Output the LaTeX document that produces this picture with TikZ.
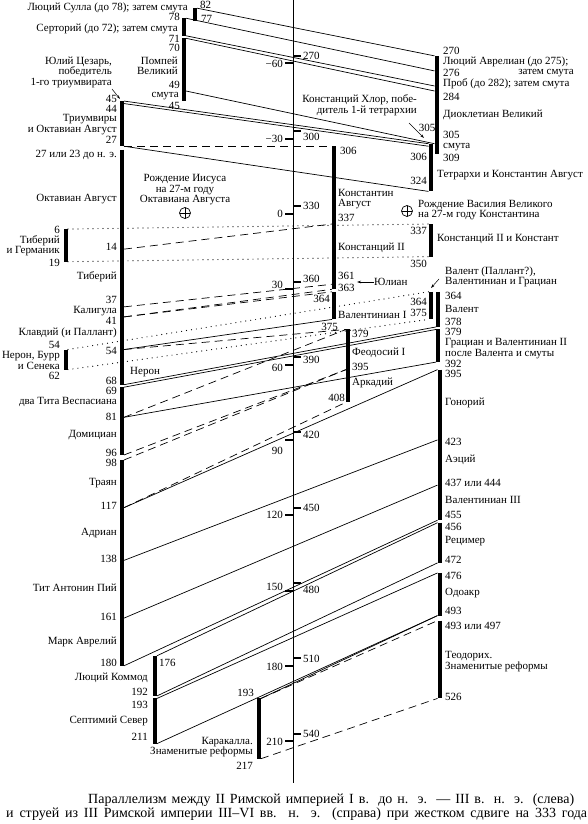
\documentclass[tikz,border=0pt]{standalone}
\usepackage{fontspec}
\setmainfont{Liberation Serif}
\usetikzlibrary{arrows.meta}
\begin{document}
\begin{tikzpicture}[x=1pt,y=-1pt,
  bar/.style={line width=4pt},
  conn/.style={line width=0.7pt},
  dsh/.style={conn,dash pattern=on 8pt off 5pt},
  dtt/.style={line width=1.2pt,line cap=round,dash pattern=on 0pt off 5pt},
  lab/.style={inner sep=0pt,font=\fontsize{11}{10.5}\selectfont},
  labR/.style={lab,anchor=east,align=right},
  labL/.style={lab,anchor=west,align=left},
  labC/.style={lab,anchor=center,align=center},
  captext/.style={inner sep=0pt,anchor=west,font=\fontsize{14}{14}\selectfont},
  tickmark/.style={line width=2pt},
  ptr/.style={line width=0.5pt,-{Stealth[length=4pt,width=2.5pt]}},
  oplus/.style={draw,circle,line width=0.7pt,minimum size=11pt,inner sep=0pt,
    path picture={\draw[line width=0.7pt] (path picture bounding box.north) -- (path picture bounding box.south)
      (path picture bounding box.west) -- (path picture bounding box.east);}},
  ]
\fill[white] (0,0) rectangle (588,824);
\useasboundingbox (0,0) rectangle (588,824);

% ---------- connector end points ----------
\coordinate (Lm82) at (197,8.18);
\coordinate (Lm78) at (186,18.22);
\coordinate (Lm71) at (186,35.79);
\coordinate (Lm70) at (186,38.3);
\coordinate (Lm49) at (186,91.01);
\coordinate (Lm45) at (124,101.05);
\coordinate (Lm44) at (124,103.56);
\coordinate (Lm27) at (124,146.23);
\coordinate (L6) at (68,229.06);
\coordinate (L14) at (124,249.14);
\coordinate (L19) at (68,261.69);
\coordinate (L37) at (124,306.87);
\coordinate (L41) at (124,316.91);
\coordinate (L54) at (124,349.54);
\coordinate (L54n) at (68,349.54);
\coordinate (L62n) at (68,369.62);
\coordinate (L68) at (124,384.68);
\coordinate (L69) at (124,387.19);
\coordinate (L81) at (124,417.31);
\coordinate (L96) at (124,454.96);
\coordinate (L98) at (124,459.98);
\coordinate (L117) at (124,507.67);
\coordinate (L138) at (124,560.38);
\coordinate (L161) at (124,618.11);
\coordinate (L180) at (124,665.8);
\coordinate (L176) at (157,655.76);
\coordinate (L192) at (157,695.92);
\coordinate (L193) at (157,698.43);
\coordinate (L211) at (157,743.61);
\coordinate (L193c) at (261,698.43);
\coordinate (L217) at (261,758.67);

\coordinate (R270) at (434.5,55.87);
\coordinate (R276) at (434.5,70.93);
\coordinate (R282) at (434.5,85.99);
\coordinate (R284) at (434.5,91.01);
\coordinate (R305) at (434.5,143.72);
\coordinate (R305t) at (428.5,143.72);
\coordinate (R306t) at (428.5,146.23);
\coordinate (R324t) at (428.5,191.41);
\coordinate (R306c) at (332,146.23);
\coordinate (R337c) at (332,224.04);
\coordinate (R337s) at (428.5,224.04);
\coordinate (R350s) at (428.5,256.67);
\coordinate (R361c) at (332,284.28);
\coordinate (R363c) at (332,289.3);
\coordinate (R364v) at (332,291.81);
\coordinate (R375v) at (332,319.42);
\coordinate (R364a) at (428.5,291.81);
\coordinate (R375a) at (428.5,319.42);
\coordinate (R378) at (436,326.95);
\coordinate (R379) at (436,329.46);
\coordinate (R392) at (436,362.09);
\coordinate (R379t) at (346,329.46);
\coordinate (R395t) at (346,369.62);
\coordinate (R408t) at (346,402.25);
\coordinate (R395) at (437.5,369.62);
\coordinate (R423) at (437.5,439.9);
\coordinate (R441) at (437.5,485.08);
\coordinate (R455) at (437.5,520.22);
\coordinate (R456) at (437.5,522.73);
\coordinate (R472) at (437.5,562.89);
\coordinate (R476) at (437.5,572.93);
\coordinate (R493) at (437.5,615.6);
\coordinate (R495) at (437.5,620.62);
\coordinate (R526) at (437.5,698.43);

% ---------- connectors ----------
\draw[conn] (Lm82) -- (R270);
\draw[conn] (Lm78) -- (R276);
\draw[conn] (Lm71) -- (R282);
\draw[conn] (Lm70) -- (R284);
\draw[conn] (Lm49) -- (R305);
\draw[conn] (Lm45) -- (R305t);
\draw[conn] (Lm44) -- (R306t);
\draw[conn] (Lm27) -- (R324t);
\draw[dsh] (Lm27) -- (R306c);
\draw[dsh] (L14) -- (R337c);
\draw[dtt] (L6) -- (R337s);
\draw[dtt] (L19) -- (R350s);
\draw[dsh] (L37) -- (R361c);
\draw[dsh] (L41) -- (R363c);
\draw[dsh] (L41) -- (R364v);
\draw[dtt] (L54n) -- (R364a);
\draw[dtt] (L62n) -- (R375a);
\draw[conn] (L54) -- (R375v);
\draw[dsh] (L54) -- (R379t);
\draw[conn] (L68) -- (R378);
\draw[conn] (L69) -- (R379);
\draw[dsh] (L81) -- (R379t);
\draw[conn] (L81) -- (R392);
\draw[dsh] (L96) -- (R395t);
\draw[dsh] (L98) -- (R395t);
\draw[dsh] (L117) -- (R408t);
\draw[conn] (L117) -- (R395);
\draw[conn] (L138) -- (R423);
\draw[conn] (L161) -- (R441);
\draw[conn] (L180) -- (R455);
\draw[conn] (L176) -- (R456);
\draw[conn] (L192) -- (R472);
\draw[conn] (L193) -- (R476);
\draw[conn] (L211) -- (R493);
\draw[conn] (L193c) -- (R493);
\draw[dsh] (L193c) -- (R495);
\draw[dsh] (L217) -- (R526);

% ---------- axis and ticks ----------
\draw[line width=0.8pt] (293,0) -- (293,783);
\foreach \y in {63.4,138.7,214,289.3,364.6,439.9,515.2,590.5,665.8,741.1}
  \draw[tickmark] (285,\y) -- (292.6,\y);
\foreach \y in {55.87,131.17,206.47,281.77,357.07,432.37,507.67,582.97,658.27,733.57}
  \draw[tickmark] (293.4,\y) -- (301,\y);
\node[labR] (km60) at (283,64) {−60};
\node[labR] (km30) at (283,139) {−30};
\node[labR] (k0) at (283,214) {0};
\node[labR] (k30) at (283,285) {30};
\node[labR] (k60) at (283,368) {60};
\node[labR] (k90) at (283,451) {90};
\node[labR] (k120) at (283,515) {120};
\node[labR] (k150) at (283,587) {150};
\node[labR] (k180) at (283,667) {180};
\node[labR] (k210) at (283,742) {210};
\node[labL] (k270) at (303,56) {270};
\node[labL] (k300) at (303,137) {300};
\node[labL] (k330) at (303,206) {330};
\node[labL] (k360) at (303,279) {360};
\node[labL] (k390) at (303,360) {390};
\node[labL] (k420) at (303,435) {420};
\node[labL] (k450) at (303,508) {450};
\node[labL] (k480) at (303,590) {480};
\node[labL] (k510) at (303,659) {510};
\node[labL] (k540) at (303,734) {540};

% ---------- bars ----------
\draw[bar] (195,8.18) -- (195,20.73);
\draw[bar] (184,18.22) -- (184,35.79);
\draw[bar] (184,38.3) -- (184,101.05);
\draw[bar] (122,101.05) -- (122,146.23);
\draw[bar] (122,149.5) -- (122,384.68);
\draw[bar] (122,387.19) -- (122,454.96);
\draw[bar] (122,459.98) -- (122,665.8);
\draw[bar] (66,229.06) -- (66,261.69);
\draw[bar] (66,349.54) -- (66,369.62);
\draw[bar] (155,655.76) -- (155,695.92);
\draw[bar] (155,698.43) -- (155,743.61);
\draw[bar] (259,698.43) -- (259,758.67);

\draw[bar] (436.5,55.87) -- (436.5,153.76);
\draw[bar] (430.5,143.72) -- (430.5,191.41);
\draw[bar] (334,146.23) -- (334,289.3);
\draw[bar] (334,291.81) -- (334,319.42);
\draw[bar] (430.5,224.04) -- (430.5,256.67);
\draw[bar] (430.5,291.81) -- (430.5,319.42);
\draw[bar] (438,291.81) -- (438,326.95);
\draw[bar] (438,329.46) -- (438,362.09);
\draw[bar] (348,329.46) -- (348,402.25);
\draw[bar] (439.5,369.62) -- (439.5,520.22);
\draw[bar] (439.5,522.73) -- (439.5,562.89);
\draw[bar] (439.5,572.93) -- (439.5,615.6);
\draw[bar] (439.5,620.62) -- (439.5,698.43);

% ---------- left labels ----------
\node[labR] (sulla) at (188,8) {Люций Сулла (до 78); затем смута};
\node[labL] (t82) at (200,5) {82};
\node[labL] (t77) at (201,19) {77};
\node[labR] (t78) at (180,17) {78};
\node[labR] (sert) at (178,28.5) {Серторий (до 72); затем смута};
\node[labR] (t71) at (180,38.5) {71};
\node[labR] (t70) at (180,48) {70};
\node[labR] (pomp) at (178,66) {Помпей\\Великий};
\node[labR] (t49) at (180,84.5) {49};
\node[labR] (smuta1) at (179,96.5) {смута};
\node[labR] (t45b) at (180,106) {45};
\node[labR] (caesar) at (112,72) {Юлий Цезарь,\\победитель\\1-го триумвирата};
\node[labR] (t45a) at (117,98.5) {45};
\node[labR] (t44) at (117,108.5) {44};
\node[labR] (triumv) at (117,124.5) {Триумвиры\\и Октавиан Август};
\node[labR] (t27) at (117,139.5) {27};
\node[labR] (t27bc) at (117,155) {27 или 23 до н. э.};
\node[labR] (octav) at (117,199) {Октавиан Август};
\node[labC] (birth1) at (185,190) {Рождение Иисуса\\на 27-м году\\Октавиана Августа};
\node[oplus] (op1) at (185,213) {};
\node[labR] (t6) at (60,230) {6};
\node[labR] (tibg) at (60,245.5) {Тиберий\\и Германик};
\node[labR] (t19) at (60,263) {19};
\node[labR] (t14) at (117,247) {14};
\node[labR] (tib) at (117,277) {Тиберий};
\node[labR] (t37) at (117,300) {37};
\node[labR] (calig) at (117,311) {Калигула};
\node[labR] (t41) at (117,321) {41};
\node[labR] (claud) at (117,333) {Клавдий (и Паллант)};
\node[labR] (t54a) at (60,345) {54};
\node[labR] (nbs) at (60,360.5) {Нерон, Бурр\\и Сенека};
\node[labR] (t62) at (60,376) {62};
\node[labR] (t54b) at (117,351) {54};
\node[labL] (nero) at (130,372) {Нерон};
\node[labR] (t68) at (117,381) {68};
\node[labR] (t69) at (117,391) {69};
\node[labR] (titus) at (117,402) {два Тита Веспасиана};
\node[labR] (t81) at (117,417) {81};
\node[labR] (domit) at (117,435) {Домициан};
\node[labR] (t96) at (117,453) {96};
\node[labR] (t98) at (117,463) {98};
\node[labR] (trajan) at (117,483) {Траян};
\node[labR] (t117) at (117,506) {117};
\node[labR] (hadr) at (117,533) {Адриан};
\node[labR] (t138) at (117,559) {138};
\node[labR] (anton) at (117,588) {Тит Антонин Пий};
\node[labR] (t161) at (117,617) {161};
\node[labR] (marc) at (117,642) {Марк Аврелий};
\node[labR] (t180) at (117,663) {180};
\node[labL] (t176) at (159,663) {176};
\node[labR] (commod) at (148,678) {Люций Коммод};
\node[labR] (t192) at (148,692) {192};
\node[labR] (t193a) at (148,705) {193};
\node[labR] (sept) at (148,721) {Септимий Север};
\node[labR] (t211) at (148,737) {211};
\node[labR] (t193b) at (254,693) {193};
\node[labR] (carac) at (253,747) {Каракалла.\\Знаменитые реформы};
\node[labR] (t217) at (253,766) {217};

% ---------- right labels ----------
\node[labL] (t270) at (443,51) {270};
\node[labL] (aurel) at (443,62) {Люций Аврелиан (до 275);};
\node[labL] (t276) at (443,73) {276};
\node[labR] (zsm) at (574,73) {затем смута};
\node[labL] (prob) at (443,83.5) {Проб (до 282); затем смута};
\node[labL] (t284) at (443,97) {284};
\node[labL] (diocl) at (443,115) {Диоклетиан Великий};
\node[labL] (t305r) at (443,134.5) {305};
\node[labL] (smuta2) at (443,147) {смута};
\node[labL] (t309) at (443,158) {309};
\node[labR] (chlor) at (417,105) {Констанций Хлор, побе-\\дитель 1-й тетрархии};
\node[labC] (t305a) at (427,128) {305};
\node[labR] (t306t) at (427,157) {306};
\node[labR] (t324) at (427,181) {324};
\node[labL] (tetr) at (437,175) {Тетрархи и Константин Август};
\node[labL] (t306r) at (340,151) {306};
\node[labL] (const) at (338,199) {Константин\\Август};
\node[labL] (t337c) at (338,218) {337};
\node[oplus] (op2) at (407,211) {};
\node[labL] (birth2) at (418,210) {Рождение Василия Великого\\на 27-м году Константина};
\node[labR] (t337r) at (427,231) {337};
\node[labL] (constans) at (437,239) {Констанций II и Констант};
\node[labR] (t350) at (427,264) {350};
\node[labL] (constII) at (338,248) {Констанций II};
\node[labL] (t361) at (338,276) {361};
\node[labL] (t363) at (338,288) {363};
\node[labL] (julian) at (374,282) {Юлиан};
\node[labL] (valpal) at (445,277) {Валент (Паллант?),\\Валентиниан и Грациан};
\node[labL] (t364v) at (445,296) {364};
\node[labL] (valens) at (445,309) {Валент};
\node[labL] (t378) at (445,322) {378};
\node[labL] (t379r) at (445,332) {379};
\node[labR] (t364a) at (427,302) {364};
\node[labR] (t375a) at (427,313) {375};
\node[labR] (t364l) at (330,299) {364};
\node[labL] (valI) at (338,315) {Валентиниан I};
\node[labR] (t375l) at (338,327) {375};
\node[labL] (t379t) at (352,334) {379};
\node[labL] (theod) at (352,353) {Феодосий I};
\node[labL] (t395t) at (352,367) {395};
\node[labL] (arcad) at (352,383) {Аркадий};
\node[labR] (t408) at (345,398) {408};
\node[labL] (gratian) at (445,348.5) {Грациан и Валентиниан II\\после Валента и смуты};
\node[labL] (t392) at (445,364) {392};
\node[labL] (t395r) at (445,373.5) {395};
\node[labL] (honor) at (445,403) {Гонорий};
\node[labL] (t423) at (445,442) {423};
\node[labL] (aetius) at (445,460) {Аэций};
\node[labL] (t437) at (445,483) {437 или 444};
\node[labL] (valIII) at (445,500) {Валентиниан III};
\node[labL] (t455) at (445,515) {455};
\node[labL] (t456) at (445,527) {456};
\node[labL] (ricim) at (445,541) {Рецимер};
\node[labL] (t472) at (445,560) {472};
\node[labL] (t476) at (445,576) {476};
\node[labL] (odoac) at (445,593) {Одоакр};
\node[labL] (t493) at (445,611) {493};
\node[labL] (t493b) at (445,626) {493 или 497};
\node[labL] (theodor) at (445,661.5) {Теодорих.\\Знаменитые реформы};
\node[labL] (t526) at (445,697) {526};

% ---------- pointers ----------
\coordinate (caeA) at (112,89);
\coordinate (caeB) at (120,99);
\draw[ptr] (caeA) -- (caeB);
\coordinate (chlA) at (409,123);
\coordinate (chlB) at (424,138);
\draw[ptr] (chlA) -- (chlB);
\coordinate (julB) at (357,282);
\draw[ptr] (julian.west) -- (julB);
\coordinate (valA) at (439,279);
\coordinate (valB) at (431,288);
\draw[ptr] (valA) -- (valB);

% ---------- caption ----------
\node[captext] (cap1) at (88,800) {\makebox[486pt][s]{Параллелизм между II Римской империей I в. до н. э. — III в. н. э. (слева)}};
\node[captext] (cap2) at (6,814) {\makebox[581pt][s]{и струей из III Римской империи III–VI вв. н. э. (справа) при жестком сдвиге на 333 года}};
\end{tikzpicture}
\end{document}
